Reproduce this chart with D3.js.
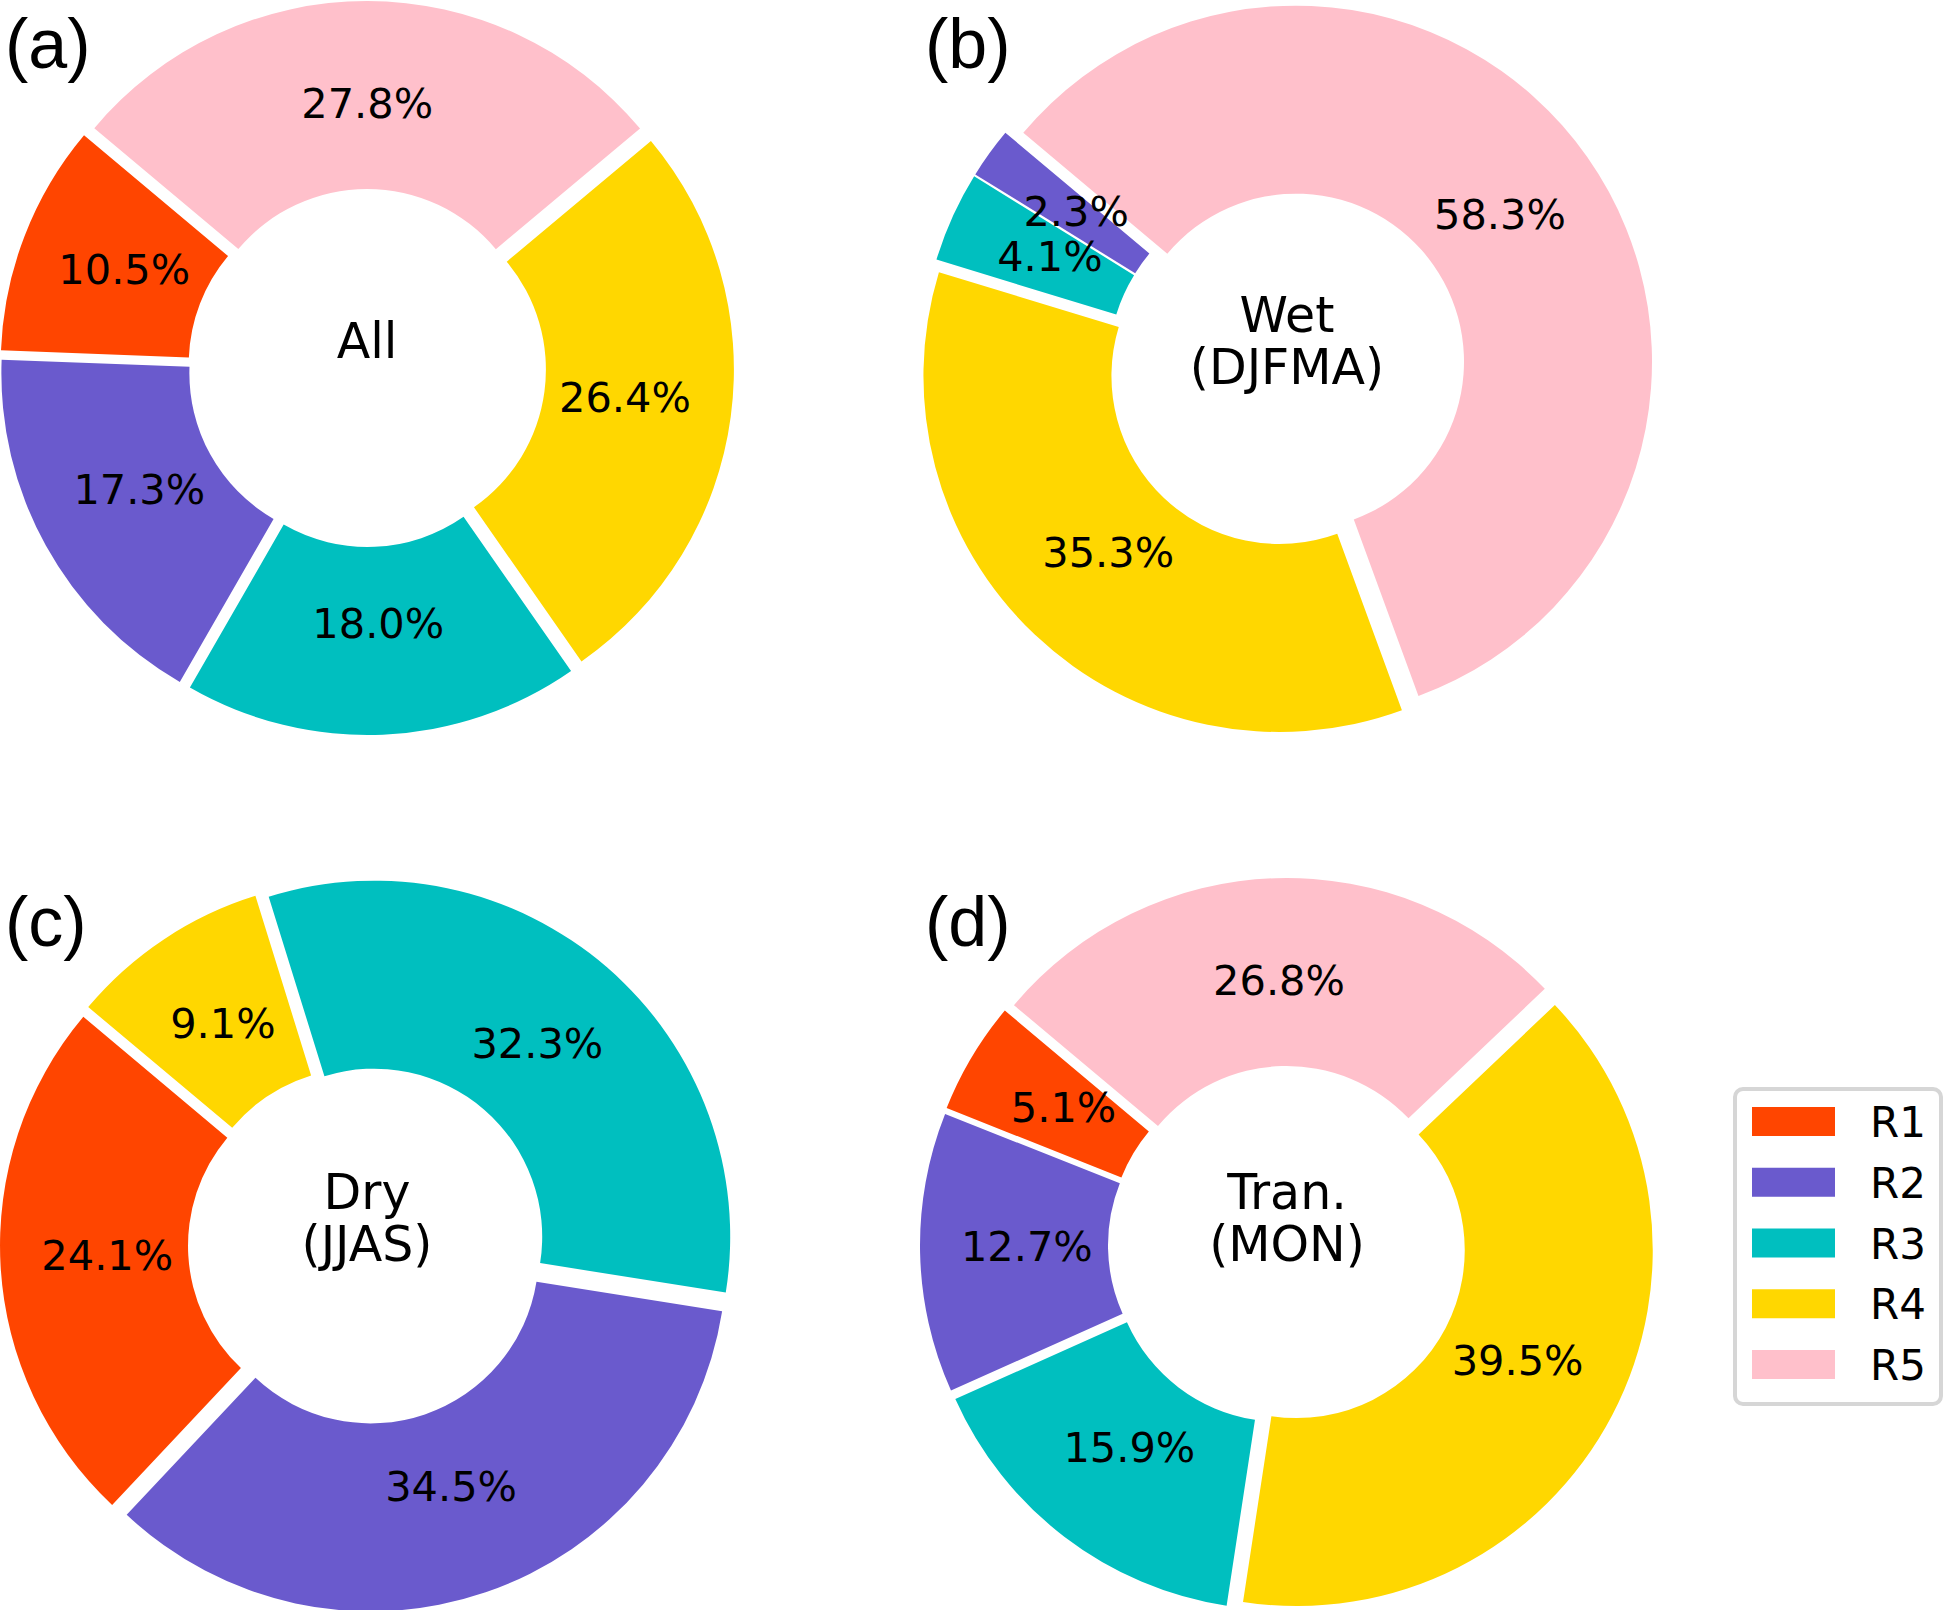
<!DOCTYPE html>
<html>
<head>
  <meta charset="utf-8">
  <title>Regime shares</title>
  <script src="https://d3js.org/d3.v7.min.js"></script>
  <style>
    body, html {
      margin: 0;
      padding: 0;
      background: #ffffff;
    }
    .pct {
      font-family: "DejaVu Sans", sans-serif;
      font-size: 41.5px;
      fill: #000;
      text-anchor: middle;
    }
    .center-label {
      font-family: "DejaVu Sans", sans-serif;
      font-size: 49px;
      fill: #000;
      text-anchor: middle;
    }
    .panel-tag {
      font-family: "Liberation Sans", Arial, sans-serif;
      font-size: 70px;
      fill: #000;
    }
    .legend-text {
      font-family: "DejaVu Sans", sans-serif;
      font-size: 42px;
      fill: #000;
    }
  </style>
</head>
<body>
  <div id="chart"></div>

  <script>
    // categories + colours
    const regimes = ["R1", "R2", "R3", "R4", "R5"]
    const regimeColors = ["#ff4500", "#6a5acd", "#00bfbf", "#ffd700", "#ffc0cb"]

    // percentage of days in each regime, per season
    const allValues = [10.5, 17.3, 18.0, 26.4, 27.8]
    const wetValues = [0.0, 2.3, 4.1, 35.3, 58.3]
    const dryValues = [24.1, 34.5, 32.3, 9.1, 0.0]
    const tranValues = [5.1, 12.7, 15.9, 39.5, 26.8]

    const panelTags = ["(a)", "(b)", "(c)", "(d)"]
    const panelNames = [["All"], ["Wet", "(DJFMA)"], ["Dry", "(JJAS)"], ["Tran.", "(MON)"]]
    const panelValues = [allValues, wetValues, dryValues, tranValues]

    const W = 1944, H = 1610
    const outerR = 356
    const innerR = 168
    const explode = 11      // px each wedge is pushed out
    const pctDist = 0.7
    const startDeg = 140    // counter-clockwise from 3 o'clock, like matplotlib

    const centers = [[367, 368], [1287, 368], [367, 1245], [1287, 1245]]
    const tagPos = [[5, 68], [925, 68], [5, 946], [925, 946]]

    const svg = d3.select("#chart").append("svg")
      .attr("width", W)
      .attr("height", H)

    // d3 angles run clockwise from 12 o'clock, so flip
    const a0 = (90 - startDeg) * Math.PI / 180
    const pie = d3.pie()
      .sort(null)
      .value(d => d.value)
      .startAngle(a0)
      .endAngle(a0 - 2 * Math.PI)

    const arc = d3.arc()
      .innerRadius(innerR)
      .outerRadius(outerR)

    panelValues.forEach(function(vals, p) {
      const data = vals.map((v, i) => ({ name: regimes[i], value: v, color: regimeColors[i] }))
      const g = svg.append("g")
        .attr("transform", `translate(${centers[p][0]},${centers[p][1]})`)

      const slices = pie(data).filter(d => d.data.value > 0)

      g.selectAll("path")
        .data(slices)
        .enter()
        .append("path")
        .attr("d", arc)
        .attr("fill", d => d.data.color)
        .attr("transform", function(d) {
          const mid = (d.startAngle + d.endAngle) / 2
          return `translate(${explode * Math.sin(mid)},${-explode * Math.cos(mid)})`
        })

      // percentage labels
      g.selectAll("text.pct")
        .data(slices)
        .enter()
        .append("text")
        .attr("class", "pct")
        .attr("x", function(d) {
          const mid = (d.startAngle + d.endAngle) / 2
          return (explode + pctDist * outerR) * Math.sin(mid)
        })
        .attr("y", function(d) {
          const mid = (d.startAngle + d.endAngle) / 2
          return -(explode + pctDist * outerR) * Math.cos(mid) + 10
        })
        .text(d => d.data.value.toFixed(1) + "%")

      // centre label
      const lines = panelNames[p]
      const ct = g.append("text").attr("class", "center-label")
      if (lines.length == 1) {
        ct.append("tspan").attr("x", 0).attr("y", -10).text(lines[0])
      } else {
        ct.append("tspan").attr("x", 0).attr("y", -36).text(lines[0])
        ct.append("tspan").attr("x", 0).attr("y", 16).text(lines[1])
      }

      // panel tag
      svg.append("text")
        .attr("class", "panel-tag")
        .attr("x", tagPos[p][0])
        .attr("y", tagPos[p][1])
        .text(panelTags[p])
    })

    // legend
    const legend = svg.append("g").attr("transform", "translate(1733,1087)")
    legend.append("rect")
      .attr("x", 2)
      .attr("y", 2)
      .attr("width", 206)
      .attr("height", 315)
      .attr("rx", 8)
      .attr("fill", "#fff")
      .attr("stroke", "#d6d6d6")
      .attr("stroke-width", 4)

    const rowY = d3.scalePoint().domain(regimes).range([20, 263])
    legend.selectAll("rect.swatch")
      .data(regimes)
      .enter()
      .append("rect")
      .attr("class", "swatch")
      .attr("x", 19)
      .attr("y", d => rowY(d))
      .attr("width", 83)
      .attr("height", 29)
      .attr("fill", (d, i) => regimeColors[i])
    legend.selectAll("text")
      .data(regimes)
      .enter()
      .append("text")
      .attr("class", "legend-text")
      .attr("x", 137)
      .attr("y", d => rowY(d) + 30)
      .text(d => d)
  </script>
</body>
</html>
